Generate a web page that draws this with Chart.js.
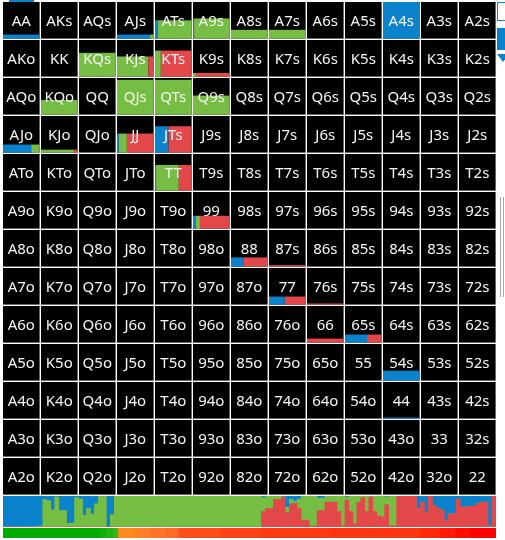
<!DOCTYPE html>
<html>
<head>
<meta charset="utf-8">
<script src="https://cdn.jsdelivr.net/npm/chart.js@4.4.1/dist/chart.umd.min.js"></script>
<style>
  body { margin: 0; background: #fff; }
  #wrap { position: relative; width: 505px; height: 540px; overflow: hidden; }
  canvas { position: absolute; }
  .deco { position: absolute; }
</style>
</head>
<body>
<div id="wrap">
  <canvas id="gridChart" width="494" height="494" style="left:3px;top:2px"></canvas>
  <canvas id="stripChart" width="493" height="31" style="left:3px;top:496px"></canvas>
  <canvas id="equityChart" width="493" height="10" style="left:3px;top:528px"></canvas>
  <div class="deco" style="left:9px;top:0;width:25px;height:2px;background:#0a82cc"></div>
  <div class="deco" style="left:497px;top:2px;width:12px;height:17px;border:1px solid #0a82cc;background:#fff"></div>
  <div class="deco" style="left:497px;top:28px;width:12px;height:22px;background:#0a82cc"></div>
  <div class="deco" style="left:497px;top:54px;width:0;height:0;border-left:6px solid transparent;border-right:6px solid transparent;border-top:8px solid #0a82cc"></div>
  <div class="deco" style="left:500px;top:197px;width:1px;height:100px;background:#a8a8a8"></div>
  <div class="deco" style="left:503px;top:197px;width:1px;height:100px;background:#a8a8a8"></div>
</div>
<script>
'use strict';

// ranks in grid order (rows / columns)
const ranks = ['A', 'K', 'Q', 'J', 'T', '9', '8', '7', '6', '5', '4', '3', '2'];

// hands that have a non-zero frequency: total frequency (bar height) and action split (bar width)
const handNames = ['AA', 'AJs', 'ATs', 'A9s', 'A8s', 'A7s', 'A4s',
                   'KQs', 'KJs', 'KTs', 'K9s', 'KQo', 'QJs', 'QTs', 'Q9s',
                   'AJo', 'KJo', 'JJ', 'JTs', 'TT', '99', '88', '87s',
                   '77', '76s', '66', '65s', '54s', '44'];
const handFreq  = [0.11, 0.11, 0.50, 0.55, 0.24, 0.24, 1.00,
                   0.65, 0.55, 0.71, 0.10, 0.40, 0.95, 0.95, 0.52,
                   0.22, 0.08, 0.52, 0.72, 0.70, 0.35, 0.25, 0.04,
                   0.22, 0.03, 0.11, 0.22, 0.27, 0.03];
const handBlue  = [1.00, 0.90, 0.07, 0.03, 0, 0, 1.00,
                   0, 0, 0, 0, 0, 0, 0, 0,
                   0.77, 0, 0.05, 0.37, 0.03, 0.08, 0.35, 0,
                   0.43, 0, 0, 0.60, 1.00, 1.00];
const handGreen = [0, 0.10, 0.93, 0.97, 1.00, 1.00, 0,
                   1.00, 0.86, 0.16, 0.08, 1.00, 1.00, 1.00, 1.00,
                   0.23, 0.90, 0.22, 0, 0.62, 0.11, 0, 0,
                   0, 0, 0, 0, 0, 0];
const handRed   = [0, 0, 0, 0, 0, 0, 0,
                   0, 0.14, 0.84, 0.92, 0, 0, 0, 0,
                   0, 0.10, 0.73, 0.63, 0.35, 0.81, 0.65, 1.00,
                   0.57, 1.00, 1.00, 0.40, 0, 0];

// action distribution over all hands, sorted by strength (bottom strip)
const stripRed = [
  0, 0, 0, 0, 0, 0, 0, 0, 0, 0,
  0, 0, 0, 0, 0, 0, 0, 0, 0, 0,
  0, 0, 0, 0, 0, 0, 0, 0, 0, 0,
  0, 0, 0, 0, 0, 0, 0, 0, 0, 0,
  0, 0, 0, 0, 0, 0, 0, 0, 0, 0,
  0, 0, 0, 0, 0, 0, 0, 0, 0, 0,
  0, 0, 0, 0, 0, .5, .6, .59, .89, .89,
  .97, .46, .75, .77, .6, .22, .22, .03, .03, .53,
  .53, .8, .8, .8, .5, .03, .86, .5, .1, .8,
  .95, .5, .97, .5, .35, .32, .72, .04, .04, 1,
  1, 1, 1, 1, .59, .8, .48, 1, .7, .6,
  .53, .2, .42, .42, .9, .64, .64, .67, .67, .75,
  .8, .8, .04, 1
];
const stripGreen = [
  0, 0, 0, 0, 0, 0, 0, 0, .02, .03,
  .89, .85, .55, .97, .53, .53, .12, .13, .95, .9,
  .37, .6, .42, .75, 1, 1, 0, .4, 1, 1,
  1, 1, 1, 1, 1, 1, 1, 1, 1, 1,
  1, 1, 1, 1, 1, 1, 1, 1, 1, 1,
  1, 1, 1, 1, 1, 1, 1, 1, 1, 1,
  1, 1, 1, 1, 1, .45, .4, .41, .11, .11,
  0, .18, .14, .06, .3, .78, .78, .97, .97, .4,
  .4, .2, .2, .2, .5, .97, .1, .5, .9, .2,
  .05, .5, .03, .5, .65, .68, .25, .96, .96, 0,
  0, 0, 0, 0, 0, 0, 0, 0, 0, 0,
  0, 0, 0, 0, 0, 0, 0, 0, 0, 0,
  0, 0, 0, 0
];
const stripBlue = stripRed.map((r, i) => Math.max(0, 1 - r - stripGreen[i]));

// equity colour bar: segment edges in percent of the bar
const equityEdges = [0, 19.5, 20.9, 22.3, 23.3, 26.8, 29.8, 32.9, 35.5, 44.0,
                     52.1, 66.3, 84.6, 88.6, 91.7, 94.7, 100];
const equityColors = ['#00ac00', '#12b00c', '#24b412', '#38b816', '#ff8a22', '#ff7e26',
                      '#ff7428', '#ff6a26', '#ff4c1a', '#ff4216', '#ff3a12', '#ff3410',
                      '#ff2a0c', '#ff1a08', '#ff0c04', '#ff0000'];

const BLUE = '#0a82cc';
const GREEN = '#76be43';
const RED = '#e2474a';

function handLabel(r, c) {
  if (r === c) return ranks[r] + ranks[c];
  if (c > r) return ranks[r] + ranks[c] + 's';
  return ranks[c] + ranks[r] + 'o';
}

const cellGap = 1.4;

const rangeGrid = {
  id: 'rangeGrid',
  beforeDatasetsDraw(chart) {
    const ctx = chart.ctx;
    const xs = chart.scales.x, ys = chart.scales.y;
    ctx.save();
    ctx.font = '15px "Noto Sans"';
    ctx.textAlign = 'center';
    ctx.textBaseline = 'alphabetic';
    for (let r = 0; r < ranks.length; r++) {
      for (let c = 0; c < ranks.length; c++) {
        const x0 = xs.getPixelForValue(c);
        const x1 = xs.getPixelForValue(c + 1) - cellGap;
        const y0 = ys.getPixelForValue(r);
        const y1 = ys.getPixelForValue(r + 1) - cellGap;
        const w = x1 - x0, h = y1 - y0;
        ctx.fillStyle = '#000';
        ctx.fillRect(x0, y0, w, h);

        const name = handLabel(r, c);
        const k = handNames.indexOf(name);
        if (k >= 0) {
          const bh = handFreq[k] * h;
          let x = x0;
          [[handBlue[k], BLUE], [handGreen[k], GREEN], [handRed[k], RED]].forEach(([f, col]) => {
            if (f <= 0) return;
            ctx.fillStyle = col;
            ctx.fillRect(x, y1 - bh, f * w, bh);
            x += f * w;
          });
        }
        ctx.fillStyle = '#f6f6f6';
        ctx.fillText(name, (x0 + x1) / 2, y0 + 24);
      }
    }
    ctx.restore();
  }
};

new Chart(document.getElementById('gridChart'), {
  type: 'scatter',
  data: { datasets: [{ data: [], pointRadius: 0 }] },
  options: {
    responsive: false,
    animation: false,
    layout: { padding: 0 },
    plugins: { legend: { display: false }, tooltip: { enabled: false } },
    scales: {
      x: { type: 'linear', min: 0, max: 13, display: false },
      y: { type: 'linear', min: 0, max: 13, reverse: true, display: false }
    }
  },
  plugins: [rangeGrid]
});

const stripLabels = stripRed.map((_, i) => i);
new Chart(document.getElementById('stripChart'), {
  type: 'bar',
  data: {
    labels: stripLabels,
    datasets: [
      { label: 'red', data: stripRed, backgroundColor: RED },
      { label: 'green', data: stripGreen, backgroundColor: GREEN },
      { label: 'blue', data: stripBlue, backgroundColor: BLUE }
    ]
  },
  options: {
    responsive: false,
    animation: false,
    layout: { padding: 0 },
    datasets: { bar: { barPercentage: 1, categoryPercentage: 1, borderWidth: 0 } },
    plugins: { legend: { display: false }, tooltip: { enabled: false } },
    scales: {
      x: { stacked: true, display: false },
      y: { stacked: true, display: false, min: 0, max: 1 }
    }
  }
});

new Chart(document.getElementById('equityChart'), {
  type: 'bar',
  data: {
    labels: ['equity'],
    datasets: equityColors.map((col, i) => ({
      data: [[equityEdges[i], equityEdges[i + 1]]],
      backgroundColor: col,
      borderWidth: 0
    }))
  },
  options: {
    indexAxis: 'y',
    responsive: false,
    animation: false,
    layout: { padding: 0 },
    datasets: { bar: { barPercentage: 1, categoryPercentage: 1, grouped: false } },
    plugins: { legend: { display: false }, tooltip: { enabled: false } },
    scales: {
      x: { type: 'linear', min: 0, max: 100, display: false },
      y: { display: false }
    }
  }
});
</script>
</body>
</html>
